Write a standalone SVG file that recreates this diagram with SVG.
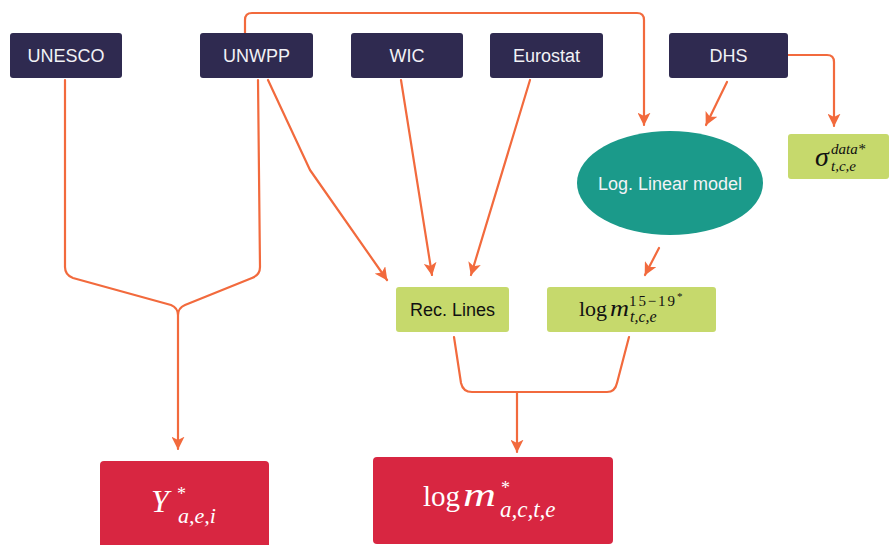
<svg xmlns="http://www.w3.org/2000/svg" width="891" height="545" viewBox="0 0 891 545">
<style>
.src rect{fill:#2f2a50}
.src text{fill:#f2f2f6;font-family:"Liberation Sans",Arial,sans-serif;font-size:18px;text-anchor:middle}
.grn rect{fill:#c6d96c}
.red rect{fill:#d82641}
.sans{font-family:"Liberation Sans",Arial,sans-serif;font-size:18px;text-anchor:middle}
.m{font-family:"Liberation Serif","Times New Roman",serif}
.i{font-style:italic}
#connectors path{fill:none;stroke:#f26a3d;stroke-width:2.2;stroke-linejoin:round;stroke-linecap:round}
</style>
<defs>
<marker id="ah" viewBox="0 0 10 10" refX="9.5" refY="5" markerWidth="13" markerHeight="13" markerUnits="userSpaceOnUse" orient="auto">
<path d="M0,0 L10,5 L0,10 L2.5,5z" fill="#f26a3d"/>
</marker>
</defs>
<rect width="891" height="545" fill="#ffffff"/>

<g id="connectors">
<path d="M65,80 V267 Q65,275 73,278 L171,305 Q178,308 178,315 V449" marker-end="url(#ah)"/>
<path d="M258,80 L260,267 Q260,275 252,278 L185,305 Q178,308 178,315"/>
<path d="M245,33 V20 Q245,13 252,13 H637 Q644,13 644,20 V125" marker-end="url(#ah)"/>
<path d="M727,82 L706,125" marker-end="url(#ah)"/>
<path d="M788,55 H827 Q834,55 834,62 V126" marker-end="url(#ah)"/>
<path d="M268,80 L310,170 L387,280" marker-end="url(#ah)"/>
<path d="M401,80 L432,275" marker-end="url(#ah)"/>
<path d="M530,80 L471,275" marker-end="url(#ah)"/>
<path d="M659,248 L645,275" marker-end="url(#ah)"/>
<path d="M454,337 L461,383 Q463,392 472,392 H607 Q615,392 617,383 L629,337"/>
<path d="M517,392 V452" marker-end="url(#ah)"/>
</g>

<g id="UNESCO" class="src"><rect x="10" y="33" width="112" height="45" rx="3"/><text x="66" y="62">UNESCO</text></g>
<g id="UNWPP" class="src"><rect x="200" y="33" width="113" height="45" rx="3"/><text x="256.5" y="62">UNWPP</text></g>
<g id="WIC" class="src"><rect x="351" y="33" width="112" height="45" rx="3"/><text x="407" y="62">WIC</text></g>
<g id="Eurostat" class="src"><rect x="490" y="33" width="113" height="45" rx="3"/><text x="546.5" y="62">Eurostat</text></g>
<g id="DHS" class="src"><rect x="669" y="33" width="119" height="45" rx="3"/><text x="728.5" y="62">DHS</text></g>

<g id="loglinear"><ellipse cx="670" cy="183" rx="93" ry="52" fill="#1b9a8a"/><text x="670" y="190" class="sans" fill="#f2f2f6">Log. Linear model</text></g>

<g id="sigma" class="grn"><rect x="788" y="134" width="101" height="45" rx="3"/>
<text class="m i" x="815" y="166" font-size="28" fill="#111">σ</text>
<text class="m i" x="831" y="154" font-size="15" fill="#111">data*</text>
<text class="m i" x="831" y="171" font-size="15" fill="#111">t,c,e</text>
</g>

<g id="reclines" class="grn"><rect x="396" y="287" width="113" height="45" rx="3"/><text x="452.5" y="316" class="sans" fill="#111">Rec. Lines</text></g>

<g id="logm1519" class="grn"><rect x="547" y="287" width="169" height="45" rx="3"/>
<text class="m" x="579" y="316" font-size="22" fill="#111">log</text>
<text class="m i" x="610" y="316" font-size="24" fill="#111" textLength="19" lengthAdjust="spacingAndGlyphs">m</text>
<text class="m" x="629" y="306" font-size="15" fill="#111" textLength="46" lengthAdjust="spacing">15−19</text>
<text class="m" x="677" y="300" font-size="11" fill="#111">*</text>
<text class="m i" x="630" y="322" font-size="16" fill="#111">t,c,e</text>
</g>

<g id="Y" class="red"><rect x="100" y="461" width="169" height="90" rx="4"/>
<text class="m i" x="151" y="512" font-size="32" fill="#fff">Y</text>
<text class="m" x="177" y="500" font-size="18" fill="#fff">*</text>
<text class="m i" x="178" y="523" font-size="22" fill="#fff">a,e,i</text>
</g>

<g id="logm" class="red"><rect x="373" y="457" width="240" height="87" rx="4"/>
<text class="m" x="423" y="506" font-size="29" fill="#fff">log</text>
<text class="m i" x="463" y="506" font-size="34" fill="#fff" textLength="33" lengthAdjust="spacingAndGlyphs">m</text>
<text class="m" x="501" y="494" font-size="18" fill="#fff">*</text>
<text class="m i" x="500" y="517" font-size="23" fill="#fff">a,c,t,e</text>
</g>
</svg>
